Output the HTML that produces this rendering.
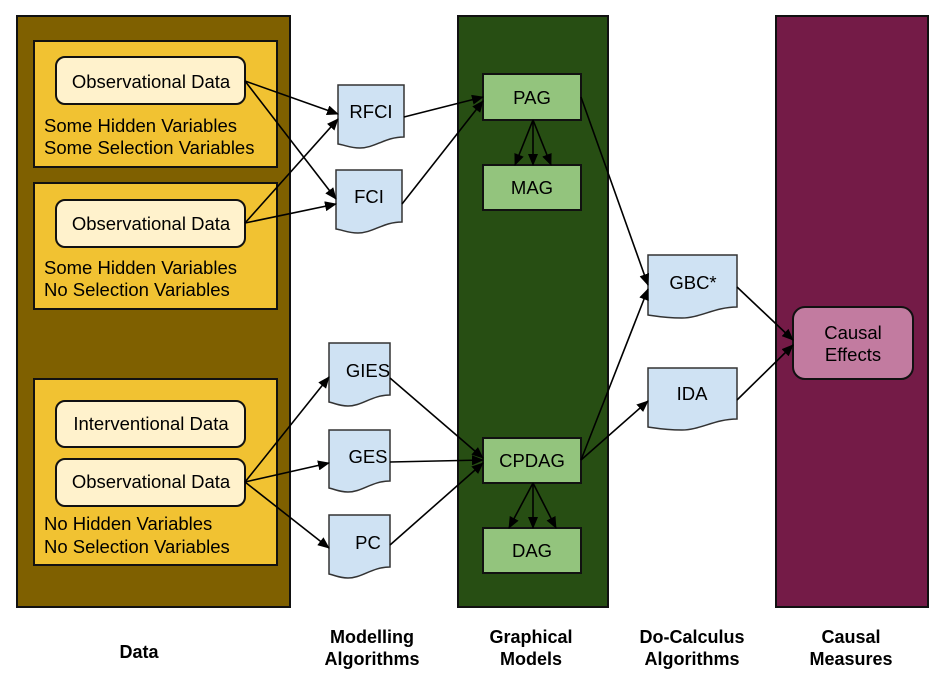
<!DOCTYPE html>
<html><head><meta charset="utf-8"><style>body{margin:0;background:#fff}svg{display:block}text{font-family:"Liberation Sans",Arial,sans-serif}</style></head><body>
<svg width="945" height="693" viewBox="0 0 945 693" xmlns="http://www.w3.org/2000/svg">
<defs><marker id="a" markerWidth="12" markerHeight="10" refX="11" refY="5" orient="auto" markerUnits="userSpaceOnUse"><path d="M0,0 L12,5 L0,10 Z" fill="#000"/></marker></defs>
<g stroke="#111" stroke-width="2">
<rect x="17" y="16" width="273" height="591" fill="#7f6000"/>
<rect x="458" y="16" width="150" height="591" fill="#274e13"/>
<rect x="776" y="16" width="152" height="591" fill="#741b47"/>
<rect x="34" y="41" width="243" height="126" fill="#f1c232"/>
<rect x="34" y="183" width="243" height="126" fill="#f1c232"/>
<rect x="34" y="379" width="243" height="186" fill="#f1c232"/>
<rect x="56" y="57" width="189" height="47" rx="9" fill="#fff2cc"/>
<rect x="56" y="200" width="189" height="47" rx="9" fill="#fff2cc"/>
<rect x="56" y="401" width="189" height="46" rx="9" fill="#fff2cc"/>
<rect x="56" y="459" width="189" height="47" rx="9" fill="#fff2cc"/>
<rect x="483" y="74" width="98" height="46" fill="#93c47d"/>
<rect x="483" y="165" width="98" height="45" fill="#93c47d"/>
<rect x="483" y="438" width="98" height="45" fill="#93c47d"/>
<rect x="483" y="528" width="98" height="45" fill="#93c47d"/>
<rect x="793" y="307" width="120" height="72" rx="12" fill="#c27ba0"/>
</g>
<g fill="#cfe2f3" stroke="#333" stroke-width="1.5">
<path d="M338,85 H404 V137 C385,137 375,148 360,148 C350,148 345,145 338,144 Z"/>
<path d="M336,170 H402 V222 C383,222 373,233 358,233 C348,233 343,230 336,229 Z"/>
<path d="M329,343 H390 V395 C372,395 362,406 348,406 C339,406 334,403 329,402 Z"/>
<path d="M329,430 H390 V481 C372,481 362,492 348,492 C339,492 334,489 329,488 Z"/>
<path d="M329,515 H390 V567 C372,567 362,578 348,578 C339,578 334,575 329,574 Z"/>
<path d="M648,255 H737 V307 C715,307 700,318 682,318 C665,318 655,316 648,315 Z"/>
<path d="M648,368 H737 V419 C715,419 700,430 682,430 C665,430 655,428 648,427 Z"/>
</g>
<g stroke="#000" stroke-width="1.6" fill="none" marker-end="url(#a)">
<line x1="245" y1="81" x2="338" y2="114"/>
<line x1="245" y1="81" x2="336" y2="199"/>
<line x1="245" y1="223" x2="338" y2="119"/>
<line x1="245" y1="223" x2="336" y2="204"/>
<line x1="404" y1="117" x2="483" y2="97"/>
<line x1="402" y1="204" x2="483" y2="101"/>
<line x1="533" y1="120" x2="515" y2="165"/>
<line x1="533" y1="120" x2="533" y2="165"/>
<line x1="533" y1="120" x2="551" y2="165"/>
<line x1="581" y1="97" x2="648" y2="285"/>
<line x1="245" y1="482" x2="329" y2="377"/>
<line x1="245" y1="482" x2="329" y2="463"/>
<line x1="245" y1="482" x2="329" y2="548"/>
<line x1="390" y1="378" x2="483" y2="458"/>
<line x1="390" y1="462" x2="483" y2="460"/>
<line x1="390" y1="545" x2="483" y2="463"/>
<line x1="581" y1="460" x2="648" y2="289"/>
<line x1="581" y1="460" x2="648" y2="401"/>
<line x1="533" y1="483" x2="509" y2="528"/>
<line x1="533" y1="483" x2="533" y2="528"/>
<line x1="533" y1="483" x2="556" y2="528"/>
<line x1="737" y1="287" x2="793" y2="340"/>
<line x1="737" y1="400" x2="793" y2="345"/>
</g>
<g font-size="18.5" fill="#000" text-anchor="middle">
<text x="151" y="88">Observational Data</text>
<text x="151" y="230">Observational Data</text>
<text x="151" y="430">Interventional Data</text>
<text x="151" y="488">Observational Data</text>
<text x="371" y="118">RFCI</text>
<text x="369" y="203">FCI</text>
<text x="368" y="377">GIES</text>
<text x="368" y="463">GES</text>
<text x="368" y="549">PC</text>
<text x="532" y="104">PAG</text>
<text x="532" y="194">MAG</text>
<text x="532" y="467">CPDAG</text>
<text x="532" y="557">DAG</text>
<text x="693" y="289">GBC*</text>
<text x="692" y="400">IDA</text>
<text x="853" y="339">Causal</text>
<text x="853" y="361">Effects</text>
</g>
<g font-size="18.5" fill="#000">
<text x="44" y="132">Some Hidden Variables</text>
<text x="44" y="154">Some Selection Variables</text>
<text x="44" y="274">Some Hidden Variables</text>
<text x="44" y="296">No Selection Variables</text>
<text x="44" y="530">No Hidden Variables</text>
<text x="44" y="553">No Selection Variables</text>
</g>
<g font-size="18" font-weight="bold" fill="#000" text-anchor="middle">
<text x="139" y="658">Data</text>
<text x="372" y="643">Modelling</text><text x="372" y="665">Algorithms</text>
<text x="531" y="643">Graphical</text><text x="531" y="665">Models</text>
<text x="692" y="643">Do-Calculus</text><text x="692" y="665">Algorithms</text>
<text x="851" y="643">Causal</text><text x="851" y="665">Measures</text>
</g>
</svg>
</body></html>
